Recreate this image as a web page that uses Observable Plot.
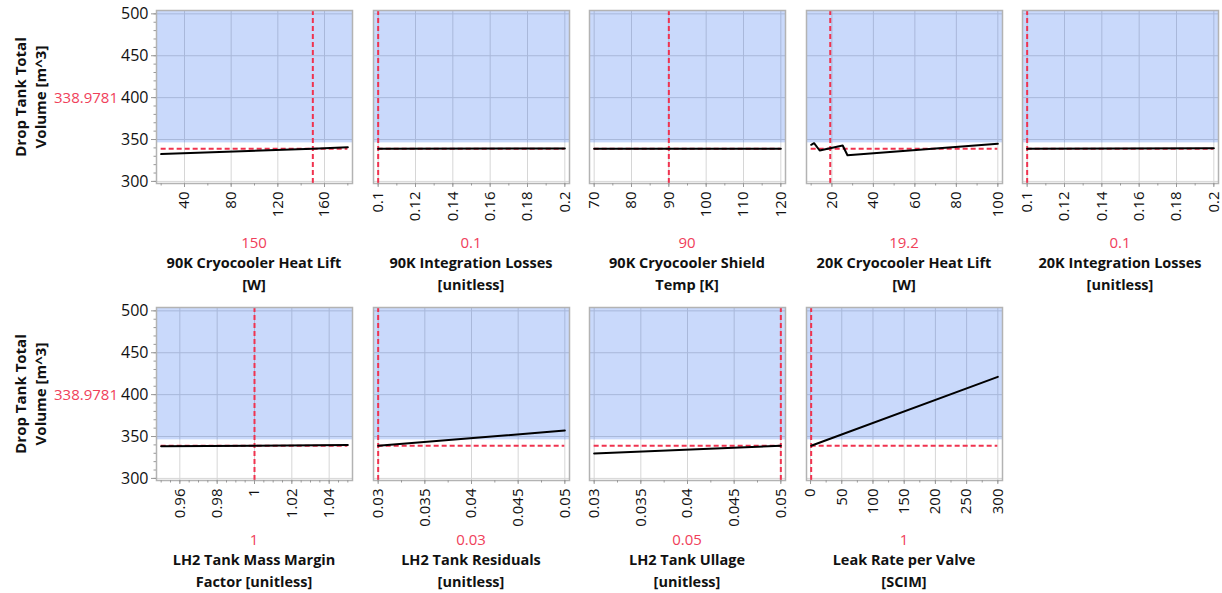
<!DOCTYPE html>
<html><head><meta charset="utf-8">
<script src="https://cdn.jsdelivr.net/npm/d3@7"></script>
<script src="https://cdn.jsdelivr.net/npm/@observablehq/plot@0.6"></script>
<style>
body{margin:0;background:#fff;font-family:"Open Sans","Noto Sans",sans-serif;}
#chart{position:relative;width:1222px;height:593px;overflow:hidden;background:#fff}
.abs{position:absolute;white-space:nowrap;}
.cur{color:#f0405a;font-size:15px;transform:translate(-50%,-50%);}
.ttl{font-weight:700;font-size:14.5px;line-height:22px;text-align:center;transform:translateX(-50%);color:#111}
.ylab{font-weight:700;font-size:15px;line-height:20px;text-align:center;color:#111;transform:translate(-50%,-50%) rotate(-90deg);}
.yval{color:#f0405a;font-size:15px;transform:translate(-100%,-50%);}
svg{position:absolute}
</style></head><body><div id="chart"></div><script>
// ---- data ----
const responseLine1 = "Drop Tank Total";
const responseLine2 = "Volume [m^3]";
const responseCurrent = 338.9781;
const responseLabel = "338.9781";
const desirableLow = 346;
const yDomain = [297.5, 504];
const yTicks = [300, 350, 400, 450, 500];
const yMinorTicks = [300,310,320,330,340,350,360,370,380,390,400,410,420,430,440,450,460,470,480,490,500];

const titleLine1 = ["90K Cryocooler Heat Lift","90K Integration Losses","90K Cryocooler Shield","20K Cryocooler Heat Lift","20K Integration Losses","LH2 Tank Mass Margin","LH2 Tank Residuals","LH2 Tank Ullage","Leak Rate per Valve"];
const titleLine2 = ["[W]","[unitless]","Temp [K]","[W]","[unitless]","Factor [unitless]","[unitless]","[unitless]","[SCIM]"];
const currentLabels = ["150","0.1","90","19.2","0.1","1","0.03","0.05","1"];
const currentValues = [150, 0.1, 90, 19.2, 0.1, 1, 0.03, 0.05, 1];

const xTicks = [
  [40, 80, 120, 160],
  [0.1, 0.12, 0.14, 0.16, 0.18, 0.2],
  [70, 80, 90, 100, 110, 120],
  [20, 40, 60, 80, 100],
  [0.1, 0.12, 0.14, 0.16, 0.18, 0.2],
  [0.96, 0.98, 1, 1.02, 1.04],
  [0.03, 0.035, 0.04, 0.045, 0.05],
  [0.03, 0.035, 0.04, 0.045, 0.05],
  [0, 50, 100, 150, 200, 250, 300]
];
const minorStep = [20, 0.01, 5, 10, 0.01, 0.005, 0.0025, 0.0025, 25];

const traceX = [
  [20, 150, 180],
  [0.1, 0.2],
  [70, 120],
  [10, 11.4, 14.1, 25.2, 27.5, 100],
  [0.1, 0.2],
  [0.95, 1.05],
  [0.03, 0.05],
  [0.03, 0.05],
  [1, 300]
];
const traceY = [
  [332.6, 338.98, 340.7],
  [338.98, 339.2],
  [339.1, 338.9],
  [343.7, 345.6, 336.9, 342.8, 331.3, 345.0],
  [338.98, 339.5],
  [338.3, 339.8],
  [338.98, 357.2],
  [329.8, 338.98],
  [338.98, 421.2]
];

// ---- layout / style ----
const frameLeft0 = 156, colStep = 216.6, frameW = 196, frameH = 173;
const rowTops = [10, 307];
const mL = 40, mR = 8, mT = 10, mB = 60;
const RED = "#f0334f", SHADE = "#c9d9fb", BLUEGRID = "#a9b8da", GRAYGRID = "#d6d6d6";
const FONT = '"Open Sans","Noto Sans",sans-serif';
const chart = document.getElementById("chart");

function add(html, cls, left, top) {
  const d = document.createElement("div");
  d.className = "abs " + cls;
  d.style.left = left + "px"; d.style.top = top + "px";
  d.innerHTML = html;
  chart.appendChild(d);
}

for (let i = 0; i < 9; i++) {
  const row = i < 5 ? 0 : 1, col = i < 5 ? i : i - 5;
  const fx = Math.round(frameLeft0 + col * colStep), fy = rowTops[row];
  const xs = traceX[i], ys = traceY[i];
  const data = xs.map((x, k) => ({x, y: ys[k]}));
  const lo = d3.min(xs), hi = d3.max(xs), pad = (hi - lo) * 0.025;
  const dom = [lo - pad, hi + pad];
  const st = minorStep[i];
  const minor = d3.range(Math.ceil(dom[0] / st - 1e-9), Math.floor(dom[1] / st + 1e-9) + 1).map(k => +(k * st).toFixed(6));
  const marks = [
    Plot.gridY(yTicks.filter(v => v < desirableLow), {stroke: GRAYGRID, strokeOpacity: 1}),
    Plot.gridX(xTicks[i], {stroke: GRAYGRID, strokeOpacity: 1}),
    Plot.barY([0], {y1: desirableLow, y2: yDomain[1], fill: SHADE}),
    Plot.gridY(yTicks.filter(v => v >= desirableLow), {stroke: BLUEGRID, strokeOpacity: 1}),
    Plot.gridX(xTicks[i], {y1: desirableLow, y2: yDomain[1], stroke: BLUEGRID, strokeOpacity: 1}),
    Plot.ruleY([responseCurrent], {x1: lo, x2: hi, stroke: RED, strokeWidth: 2, strokeDasharray: "5,3"}),
    Plot.ruleX([currentValues[i]], {stroke: RED, strokeWidth: 2, strokeDasharray: "5,3"}),
    Plot.line(data, {x: "x", y: "y", stroke: "#000", strokeWidth: 2}),
    Plot.frame({stroke: "#b3b3b3", strokeWidth: 1.5}),
    Plot.axisX(xTicks[i], {tickRotate: -90, tickSize: 4, tickPadding: 4, fontSize: 15, stroke: "#999", fill: "#111", tickFormat: d => String(d), label: null}),
    Plot.axisX(minor, {tickSize: 2.5, stroke: "#999", tickFormat: () => "", label: null})
  ];
  if (col === 0) {
    marks.push(Plot.axisY(yTicks, {tickSize: 5, tickPadding: 3, fontSize: 16, stroke: "#999", fill: "#111", label: null}));
    marks.push(Plot.axisY(yMinorTicks, {tickSize: 2.5, stroke: "#999", tickFormat: () => "", label: null}));
  }
  const svg = Plot.plot({
    width: mL + frameW + mR, height: mT + frameH + mB,
    marginLeft: mL, marginRight: mR, marginTop: mT, marginBottom: mB,
    x: {domain: dom, label: null},
    y: {domain: yDomain, label: null, axis: col === 0 ? undefined : null},
    style: {background: "transparent", fontFamily: FONT, overflow: "visible"},
    marks
  });
  svg.style.left = (fx - mL) + "px";
  svg.style.top = (fy - mT) + "px";
  chart.appendChild(svg);

  const cx = fx + frameW / 2, by = fy + frameH;
  add(currentLabels[i], "cur", cx, by + 59);
  add(titleLine1[i] + "<br>" + titleLine2[i], "ttl", cx, by + 69);
  if (col === 0) {
    add(responseLine1 + "<br>" + responseLine2, "ylab", 30, fy + frameH / 2);
    add(responseLabel, "yval", 118, fy + frameH / 2);
  }
}
</script></body></html>
